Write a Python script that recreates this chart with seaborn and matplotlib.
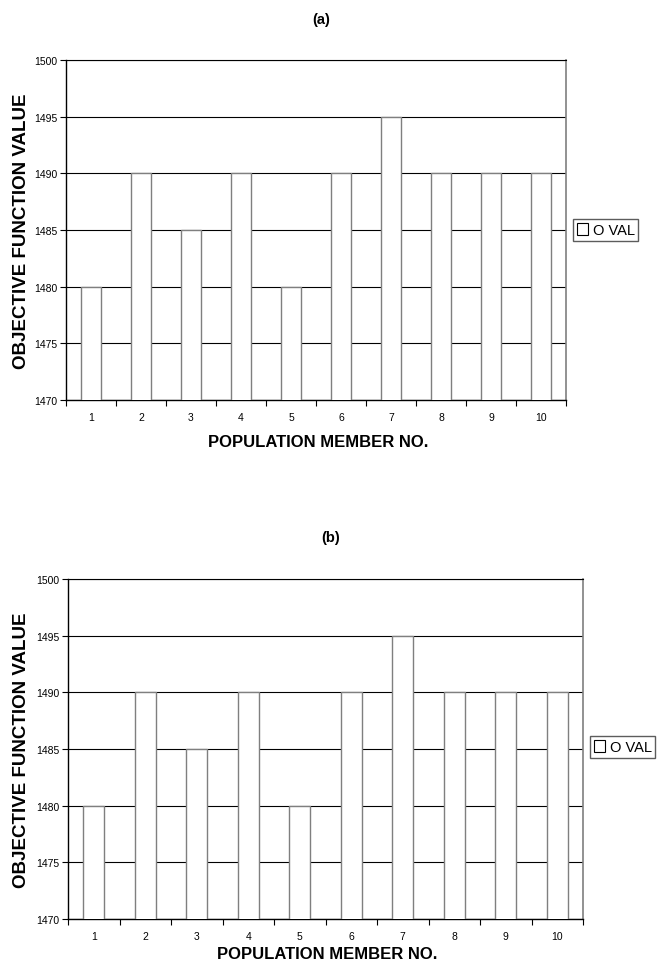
import matplotlib
matplotlib.use("Agg")
import matplotlib.pyplot as plt
import seaborn as sns
import pandas as pd
import numpy as np
from matplotlib.patches import Patch

members = ["1", "2", "3", "4", "5", "6", "7", "8", "9", "10"]
oval_a = [1480, 1490, 1485, 1490, 1480, 1490, 1495, 1490, 1490, 1490]
oval_b = [1480, 1490, 1485, 1490, 1480, 1490, 1495, 1490, 1490, 1490]
yticks = [1470, 1475, 1480, 1485, 1490, 1495, 1500]

sns.set_style("white")
plt.rcParams['font.family'] = ['Liberation Sans', 'DejaVu Sans']
plt.rcParams['text.color'] = 'black'
plt.rcParams['axes.labelcolor'] = 'black'
plt.rcParams['xtick.color'] = 'black'
plt.rcParams['ytick.color'] = 'black'
plt.rcParams['xtick.labelcolor'] = 'black'
plt.rcParams['ytick.labelcolor'] = 'black'

fig = plt.figure(figsize=(6.62, 9.70), dpi=100)
W, H = 662, 970

def make_panel(rect, vals, title, title_y, xlabel_y, leg_box):
    l, t, r, b = rect
    ax = fig.add_axes([l / W, 1 - b / H, (r - l) / W, (b - t) / H])
    df = pd.DataFrame({"member": members, "val": vals})
    sns.barplot(data=df, x="member", y="val", ax=ax, color="white",
                edgecolor="#7f7f7f", linewidth=1.0, width=0.4, zorder=3)
    ax.set_ylim(1470, 1500)
    ax.set_xlim(-0.5, len(members) - 0.5)
    ax.set_yticks(yticks)
    ax.set_yticklabels([str(v) for v in yticks], fontsize=7.5)
    ax.yaxis.grid(True, color="black", linewidth=0.8, zorder=0)
    ax.set_axisbelow(True)
    ax.set_xticks(np.arange(-0.5, len(members), 1.0), minor=True)
    ax.tick_params(axis='x', which='major', bottom=True, length=0, labelsize=7.5, pad=9)
    ax.tick_params(axis='x', which='minor', bottom=True, length=4, width=0.8,
                   direction='out', color='black')
    ax.tick_params(axis='y', which='major', left=True, length=4, width=0.8,
                   direction='out', color='black', pad=2)
    for s in ["left", "bottom"]:
        ax.spines[s].set_color("black")
        ax.spines[s].set_linewidth(1.0)
    ax.spines["top"].set_color("black")
    ax.spines["top"].set_linewidth(0.8)
    ax.spines["right"].set_color("#7f7f7f")
    ax.spines["right"].set_linewidth(1.2)
    ax.set_xlabel("")
    ax.set_ylabel("")
    fig.text(22 / W, 1 - ((t + b) / 2) / H, "OBJECTIVE FUNCTION VALUE", rotation=90,
             ha='center', va='center', fontsize=13.5, fontweight='bold')
    fig.text(((l + r) / 2 + 5) / W, 1 - title_y / H, title, ha='center', va='center',
             fontsize=10.5, fontweight='bold')
    fig.text(((l + r) / 2 + 2) / W, 1 - xlabel_y / H, "POPULATION MEMBER NO.", ha='center',
             va='center', fontsize=12, fontweight='bold')
    handle = Patch(facecolor='white', edgecolor='black', linewidth=0.8, label='O VAL')
    lx, ly = leg_box
    fig.legend(handles=[handle], loc='center left', bbox_to_anchor=(lx / W, 1 - ly / H),
               frameon=True, fancybox=False, edgecolor='#333333', fontsize=10.5,
               handlelength=0.8, handleheight=0.8, handletextpad=0.3, borderpad=0.25,
               borderaxespad=0)
    return ax

make_panel((66, 61, 566, 401), oval_a, "(a)", 20, 443, (573, 231))
make_panel((68, 580, 583, 920), oval_b, "(b)", 538, 955, (590, 748))

fig.savefig("out.png", dpi=100)
